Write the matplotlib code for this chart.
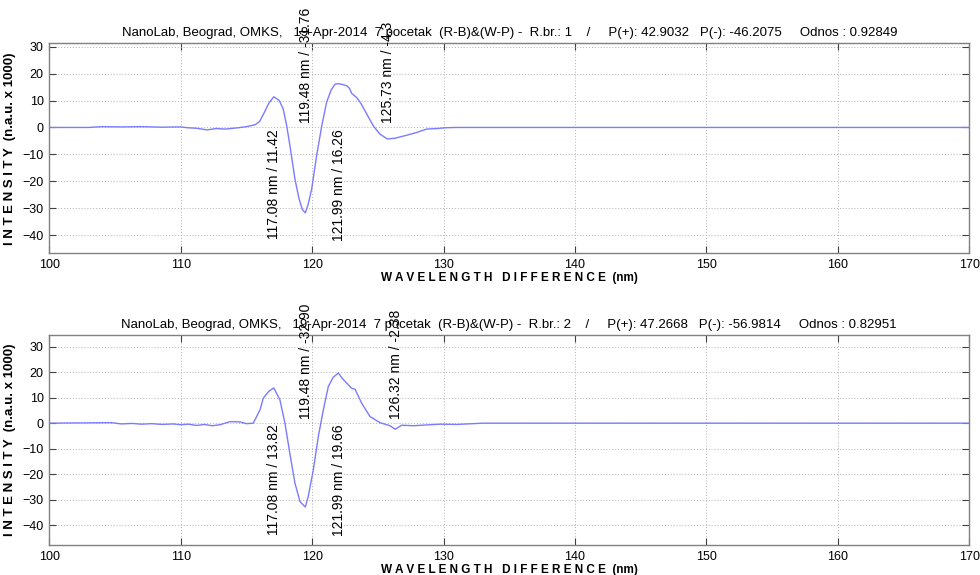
import matplotlib
matplotlib.use("Agg")
import matplotlib.pyplot as plt

plt.rcParams['font.family'] = ['Liberation Sans', 'DejaVu Sans']

# --- data (wavelength difference in nm, intensity n.a.u. x 1000)
x1 = [100, 103, 104, 105.5, 107, 108.5, 110, 110.5, 111.2, 112.0, 112.7, 113.4, 114.0,
      114.4, 115.0, 115.65, 116.0, 116.29, 116.7, 117.08, 117.5, 117.8, 118.05, 118.31,
      118.69, 119.0, 119.25, 119.48, 119.7, 119.96, 120.34, 120.73, 121.1, 121.45,
      121.74, 121.99, 122.3, 122.63, 122.85, 123.0, 123.39, 123.7, 124.02, 124.65,
      125.16, 125.73, 126.3, 127.19, 128.0, 128.71, 129.5, 130.24, 131, 170]
y1 = [0, 0, 0.3, 0.2, 0.3, 0.1, 0.2, -0.1, -0.3, -0.9, -0.4, -0.6, -0.3,
      -0.1, 0.3, 1.0, 2.2, 4.9, 9.0, 11.42, 10.0, 6.8, 1.0, -6.8,
      -19.2, -26.5, -30.5, -31.76, -28.5, -23.0, -10.5, 0.6, 9.4, 14.0,
      16.1, 16.26, 16.0, 15.5, 14.5, 12.7, 11.1, 9.0, 6.2, 0.6,
      -2.5, -4.3, -4.0, -2.9, -1.8, -0.6, -0.4, -0.1, 0, 0]

x2 = [100, 104.7, 105.5, 106.3, 107.0, 107.8, 108.6, 109.4, 110.0, 110.6, 111.2,
      111.8, 112.4, 113.0, 113.75, 114.5, 115.0, 115.52, 116.03, 116.28, 116.7,
      117.08, 117.55, 117.93, 118.3, 118.69, 119.07, 119.38, 119.48, 119.7, 120.09,
      120.47, 120.85, 121.23, 121.6, 121.99, 122.3, 122.63, 123.0, 123.26, 123.77,
      124.4, 125.16, 125.92, 126.32, 126.81, 127.7, 128.7, 129.73, 131.0, 133.0, 170]
y2 = [0, 0.2, -0.3, -0.1, -0.4, -0.2, -0.5, -0.3, -0.6, -0.4, -0.9,
      -0.5, -1.0, -0.6, 0.6, 0.5, -0.2, 0.0, 5.2, 9.8, 12.5,
      13.82, 9.1, 0.0, -11.8, -23.5, -30.7, -32.4, -32.90, -28.8, -18.3,
      -5.2, 5.2, 14.4, 18.0, 19.66, 17.5, 15.7, 13.7, 13.3, 7.8,
      2.6, 0.2, -1.0, -2.38, -0.8, -1.0, -0.7, -0.4, -0.5, 0, 0]

# peak annotations: position, value, label
peaks1_x = [117.08, 119.48, 121.99, 125.73]
peaks1_y = [11.42, -31.76, 16.26, -4.3]
peaks1_lbl = ['117.08 nm / 11.42', '119.48 nm / -31.76', '121.99 nm / 16.26', '125.73 nm / -4.3']

peaks2_x = [117.08, 119.48, 121.99, 126.32]
peaks2_y = [13.82, -32.90, 19.66, -2.38]
peaks2_lbl = ['117.08 nm / 13.82', '119.48 nm / -32.90', '121.99 nm / 19.66', '126.32 nm / -2.38']

titles = [
    'NanoLab, Beograd, OMKS,   19-Apr-2014  7 pocetak  (R-B)&(W-P) -  R.br.: 1    /     P(+): 42.9032   P(-): -46.2075     Odnos : 0.92849',
    'NanoLab, Beograd, OMKS,   19-Apr-2014  7 pocetak  (R-B)&(W-P) -  R.br.: 2    /     P(+): 47.2668   P(-): -56.9814     Odnos : 0.82951',
]
ylims = [(-46.8, 31.3), (-47.8, 34.6)]

fig = plt.figure(figsize=(9.8, 5.75), dpi=100)
ax1 = fig.add_axes([0.0503, 0.5595, 0.9388, 0.3652])
ax2 = fig.add_axes([0.0503, 0.0522, 0.9388, 0.3652])

line_col = '#7b7bff'
for ax, x, y, px, py, lbl, title, yl in [
        (ax1, x1, y1, peaks1_x, peaks1_y, peaks1_lbl, titles[0], ylims[0]),
        (ax2, x2, y2, peaks2_x, peaks2_y, peaks2_lbl, titles[1], ylims[1])]:
    ax.plot(x, y, color=line_col, lw=1.0)
    ax.set_xlim(100, 170)
    ax.set_ylim(*yl)
    ax.set_xticks(range(100, 171, 10))
    ax.set_yticks(range(-40, 31, 10))
    ax.grid(True, color='#b0b0b0', linestyle=(0, (1, 2)), lw=0.7)
    ax.tick_params(direction='in', top=True, right=True, labelsize=9,
                   length=5, color='#404040', pad=4)
    for s in ax.spines.values():
        s.set_color('#808080')
        s.set_linewidth(1.0)
    ax.set_title(title, fontsize=9.5, pad=5)
    ax.set_xlabel('W A V E L E N G T H   D I F F E R E N C E  (nm)',
                  fontsize=8.5, fontweight='bold', labelpad=1)
    ax.set_ylabel('I N T E N S I T Y  (n.a.u. x 1000)', fontsize=9.5,
                  fontweight='bold', labelpad=5)
    for xx, yy, t in zip(px, py, lbl):
        if yy > 0:
            ax.text(xx + 0.05, -0.5, t, rotation=90, ha='center', va='top', fontsize=10)
        else:
            ax.text(xx + 0.05, 1.5, t, rotation=90, ha='center', va='bottom', fontsize=10,
                    clip_on=False)

fig.savefig('out.png', dpi=100)
